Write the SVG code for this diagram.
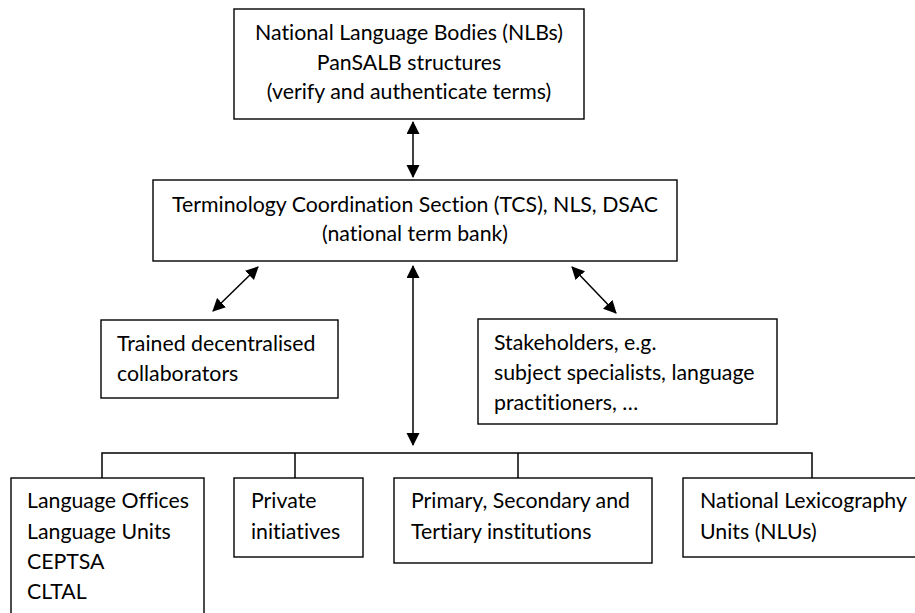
<svg xmlns="http://www.w3.org/2000/svg" width="915" height="613" viewBox="0 0 915 613">
<style>
.box{fill:#fff;stroke:#000;stroke-width:1.4}
.t{font-family:Lato,"Open Sans","Liberation Sans",sans-serif;font-size:21.3px;fill:#000;font-variant-ligatures:none}
.c{text-anchor:middle}
.ln{fill:none;stroke:#000;stroke-width:1.5}
</style>
<defs>
<marker id="ah" markerUnits="userSpaceOnUse" markerWidth="14" markerHeight="14" refX="12" refY="6.5" orient="auto-start-reverse">
<path d="M0,0 L13,6.5 L0,13 z" fill="#000"/>
</marker>
</defs>
<rect width="915" height="613" fill="#fff"/>
<g id="connectors">
<line class="ln" x1="413" y1="122" x2="413" y2="177" marker-start="url(#ah)" marker-end="url(#ah)"/>
<line class="ln" x1="258" y1="267" x2="213" y2="311" marker-start="url(#ah)" marker-end="url(#ah)"/>
<line class="ln" x1="572" y1="267" x2="616" y2="313" marker-start="url(#ah)" marker-end="url(#ah)"/>
<line class="ln" x1="413" y1="266" x2="413" y2="445" marker-start="url(#ah)" marker-end="url(#ah)"/>
<polyline class="ln" points="102,478 102,453 812,453 812,478"/>
<line class="ln" x1="295" y1="453" x2="295" y2="478"/>
<line class="ln" x1="518" y1="453" x2="518" y2="478"/>
</g>
<g id="nlb">
<rect class="box" x="234" y="9" width="350" height="110"/>
<text class="t c" x="409" y="40">National Language Bodies (NLBs)</text>
<text class="t c" x="409" y="70">PanSALB structures</text>
<text class="t c" x="409" y="99">(verify and authenticate terms)</text>
</g>
<g id="tcs">
<rect class="box" x="153" y="180" width="524" height="81"/>
<text class="t c" x="415" y="212">Terminology Coordination Section (TCS), NLS, DSAC</text>
<text class="t c" x="415" y="241">(national term bank)</text>
</g>
<g id="trained">
<rect class="box" x="101" y="320" width="237" height="78"/>
<text class="t" x="117" y="351">Trained decentralised</text>
<text class="t" x="117" y="381">collaborators</text>
</g>
<g id="stakeholders">
<rect class="box" x="478" y="319" width="299" height="105"/>
<text class="t" x="494" y="350">Stakeholders, e.g.</text>
<text class="t" x="494" y="380">subject specialists, language</text>
<text class="t" x="494" y="410">practitioners, …</text>
</g>
<g id="offices">
<rect class="box" x="11" y="478" width="193" height="180"/>
<text class="t" x="27" y="508">Language Offices</text>
<text class="t" x="27" y="539">Language Units</text>
<text class="t" x="27" y="569">CEPTSA</text>
<text class="t" x="27" y="599">CLTAL</text>
</g>
<g id="private">
<rect class="box" x="234" y="478" width="129" height="79"/>
<text class="t" x="251" y="508">Private</text>
<text class="t" x="251" y="539">initiatives</text>
</g>
<g id="institutions">
<rect class="box" x="394" y="478" width="258" height="85"/>
<text class="t" x="411" y="508">Primary, Secondary and</text>
<text class="t" x="411" y="539">Tertiary institutions</text>
</g>
<g id="nlu">
<rect class="box" x="683" y="478" width="260" height="79"/>
<text class="t" x="700" y="508">National Lexicography</text>
<text class="t" x="700" y="539">Units (NLUs)</text>
</g>
</svg>
